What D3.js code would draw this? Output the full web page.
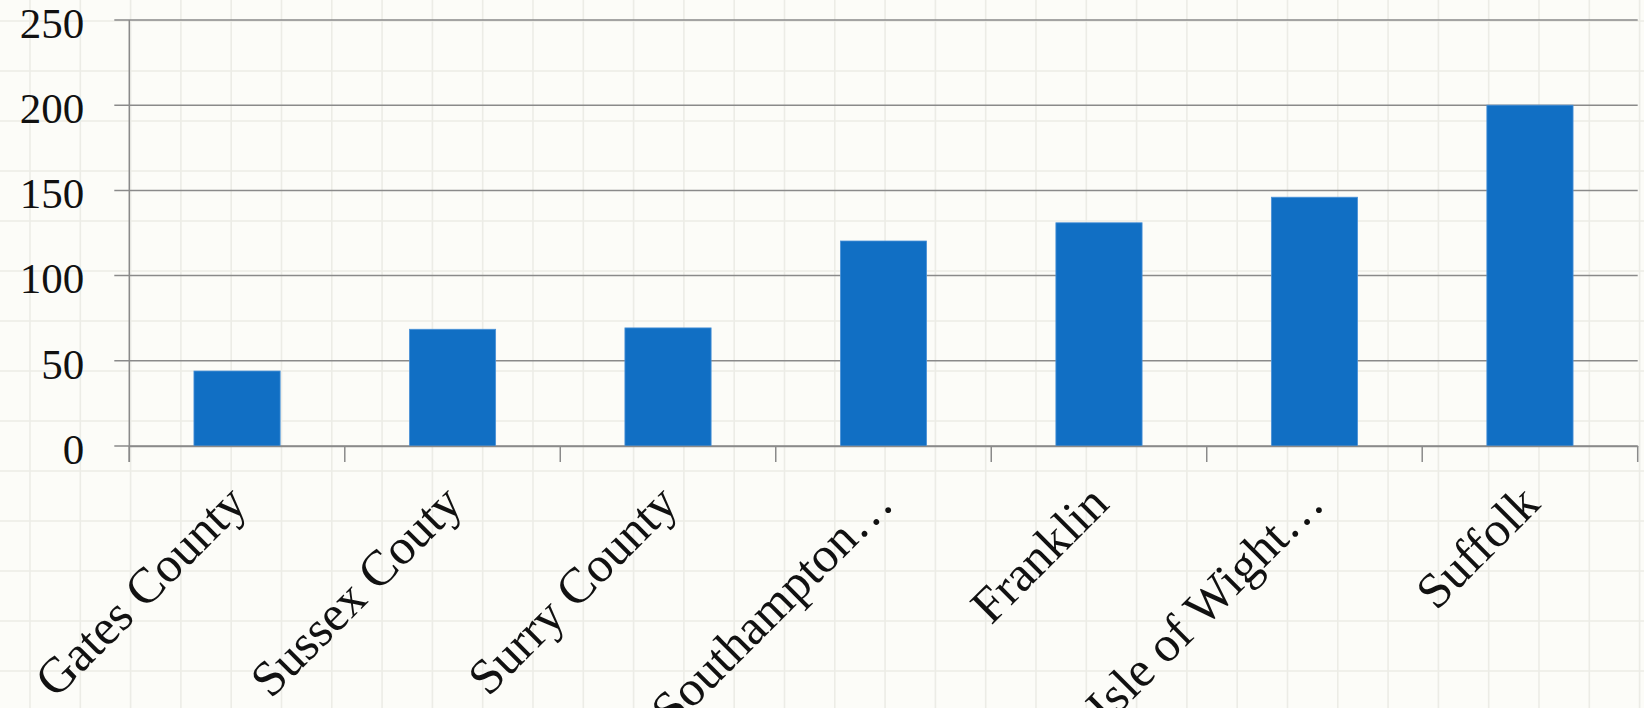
<!DOCTYPE html>
<html>
<head>
<meta charset="utf-8">
<script src="https://cdn.jsdelivr.net/npm/d3@7"></script>
<style>
  body { margin: 0; background: #fcfcf8; }
  svg { display: block; }
</style>
</head>
<body>
<svg width="1644" height="708"></svg>
<script>
// data
var places = ['Gates County', 'Sussex Couty', 'Surry County', 'Southampton\u2026',
              'Franklin', 'Isle of Wight\u2026', 'Suffolk'];
var values = [44, 68.5, 69.3, 120.3, 131, 146, 200];
var yTicks = [0, 50, 100, 150, 200, 250];

var margin = {top: 20, left: 129.3, right: 6.3, bottom: 262};
var W = 1644, H = 708;
var width = W - margin.left - margin.right;
var height = H - margin.top - margin.bottom;

var root = d3.select('svg');

// graph paper background
var paper = root.append('g').attr('class', 'paper');
paper.selectAll('.vline')
    .data(d3.range(0, 33))
    .enter()
    .append('line')
    .attr('x1', function(d){ return 30 + d * 50.3; })
    .attr('x2', function(d){ return 30 + d * 50.3; })
    .attr('y1', 0).attr('y2', H)
    .attr('stroke', '#ececE6')
    .attr('stroke-width', 1.6);
paper.selectAll('.hline')
    .data(d3.range(0, 15))
    .enter()
    .append('line')
    .attr('y1', function(d){ return 21 + d * 50; })
    .attr('y2', function(d){ return 21 + d * 50; })
    .attr('x1', 0).attr('x2', W)
    .attr('stroke', '#ececE6')
    .attr('stroke-width', 1.6);

var svg = root.append('g')
    .attr('transform', 'translate(' + margin.left + ',' + margin.top + ')');

var x = d3.scaleBand().domain(places).range([0, width]).padding(0);
var y = d3.scaleLinear().domain([0, 250]).range([height, 0]);

// horizontal grid lines
svg.selectAll('.grid')
    .data(yTicks)
    .enter()
    .append('line')
    .attr('class', 'grid')
    .attr('x1', -15)
    .attr('x2', width)
    .attr('y1', function(d){ return y(d); })
    .attr('y2', function(d){ return y(d); })
    .attr('stroke', '#8a8a8a')
    .attr('stroke-width', 1.5);

// y axis
var yAxis = svg.append('g')
    .call(d3.axisLeft(y).tickValues(yTicks).tickSize(0).tickPadding(45));
yAxis.select('.domain').remove();
yAxis.selectAll('text')
    .attr('font-family', '"Liberation Serif", serif')
    .attr('font-size', 43)
    .attr('fill', '#111')
    .attr('dy', '0.4em');
svg.append('line')
    .attr('x1', 0).attr('x2', 0)
    .attr('y1', 0).attr('y2', height + 16)
    .attr('stroke', '#8a8a8a')
    .attr('stroke-width', 1.5);

// bars
var barW = x.bandwidth() * 0.4;
svg.selectAll('.bar')
    .data(values)
    .enter()
    .append('rect')
    .attr('class', 'bar')
    .attr('x', function(d, i){ return x(places[i]) + x.bandwidth() / 2 - barW / 2; })
    .attr('width', barW)
    .attr('y', function(d){ return y(d); })
    .attr('height', function(d){ return height - y(d); })
    .attr('fill', '#116fc4')
    .attr('stroke', '#4b92d8')
    .attr('stroke-width', 0.8);

// x axis
var xAxis = svg.append('g')
    .attr('transform', 'translate(0,' + height + ')')
    .call(d3.axisBottom(x).tickSize(0).tickSizeOuter(0));
xAxis.select('.domain')
    .attr('stroke', '#8a8a8a')
    .attr('stroke-width', 1.5);
xAxis.selectAll('.tick line').remove();
svg.selectAll('.xtick')
    .data(d3.range(0, places.length + 1))
    .enter()
    .append('line')
    .attr('x1', function(d){ return d * x.step(); })
    .attr('x2', function(d){ return d * x.step(); })
    .attr('y1', height)
    .attr('y2', height + 16)
    .attr('stroke', '#8a8a8a')
    .attr('stroke-width', 1.5);
xAxis.selectAll('text')
    .attr('font-family', '"Liberation Serif", serif')
    .attr('font-size', 50)
    .attr('fill', '#111')
    .attr('text-anchor', 'end')
    .attr('y', 0)
    .attr('dy', 0)
    .attr('transform', 'translate(12,60) rotate(-45)');
</script>
</body>
</html>
